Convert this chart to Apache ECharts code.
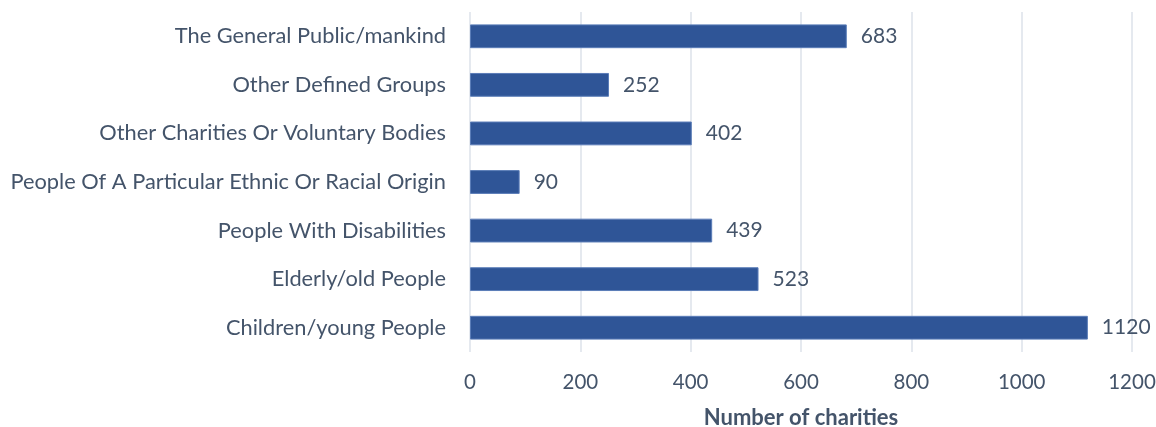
<!DOCTYPE html>
<html>
<head>
<meta charset="utf-8">
<script src="https://cdn.jsdelivr.net/npm/echarts@6/dist/echarts.min.js"></script>
<style>
  html, body { margin: 0; padding: 0; background: #fff; }
  #chart { width: 1156px; height: 427px; }
</style>
</head>
<body>
<div id="chart"></div>
<script>
// categories top to bottom, as in the picture
const categories = [
  'The General Public/mankind',
  'Other Defined Groups',
  'Other Charities Or Voluntary Bodies',
  'People Of A Particular Ethnic Or Racial Origin',
  'People With Disabilities',
  'Elderly/old People',
  'Children/young People'
];
const counts = [683, 252, 402, 90, 439, 523, 1120];
const xTicks = [0, 200, 400, 600, 800, 1000, 1200];

const textColor = '#44546A';
const font = 'Lato';
const fontSize = 21.8;

const chart = echarts.init(document.getElementById('chart'), null, { renderer: 'canvas' });
chart.setOption({
  animation: false,
  grid: { left: 470, right: 24, top: 12, bottom: 75, containLabel: false, outerBoundsMode: 'none' },
  xAxis: {
    type: 'value',
    min: xTicks[0],
    max: xTicks[xTicks.length - 1],
    interval: xTicks[1] - xTicks[0],
    name: 'Number of charities',
    nameLocation: 'middle',
    nameGap: 55,
    nameTextStyle: { color: textColor, fontFamily: font, fontSize: 22, fontWeight: 'bold' },
    axisLine: { show: false },
    axisTick: { show: false },
    axisLabel: { color: textColor, fontFamily: font, fontSize: 20.5, margin: 20, formatter: v => String(v) },
    splitLine: { lineStyle: { color: '#DDE2EA', width: 1.5 } }
  },
  yAxis: {
    type: 'category',
    data: categories,
    inverse: true,
    axisLine: { show: false },
    axisTick: { show: false },
    axisLabel: { color: textColor, fontFamily: font, fontSize: fontSize, margin: 24 }
  },
  series: [{
    type: 'bar',
    data: counts,
    barWidth: '49%',
    itemStyle: { color: '#2F5597', borderColor: '#5B7DB8', borderWidth: 1 },
    label: {
      show: true,
      position: 'right',
      distance: 14,
      color: textColor,
      fontFamily: font,
      fontSize: 21
    }
  }]
});
</script>
</body>
</html>
